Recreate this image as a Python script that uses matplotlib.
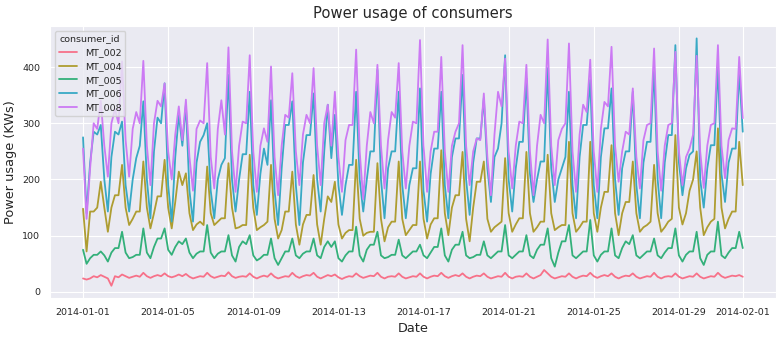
import pandas as pd
import seaborn as sns
import matplotlib.dates as mdates
from matplotlib import pyplot as plt

# readings every 4 hours: 00, 04, 08, 12, 16, 20 for each day of January 2014,
# plus the closing reading at 2014-02-01 00:00
timestamps = pd.date_range("2014-01-01 00:00", "2014-02-01 00:00", freq="4h")

consumer_ids = ["MT_002", "MT_004", "MT_005", "MT_006", "MT_008"]

mt_002 = [
    24, 22, 24, 28, 26, 30,
    27, 24, 11, 28, 26, 31,
    28, 25, 27, 29, 27, 34,
    28, 25, 28, 30, 28, 33,
    28, 26, 28, 31, 28, 32,
    27, 24, 26, 28, 27, 34,
    28, 25, 27, 29, 28, 35,
    28, 25, 27, 28, 27, 33,
    27, 24, 27, 29, 27, 33,
    27, 24, 26, 28, 27, 34,
    28, 25, 28, 30, 29, 34,
    27, 24, 27, 30, 28, 31,
    26, 23, 26, 28, 27, 33,
    28, 25, 27, 29, 28, 34,
    27, 24, 27, 28, 27, 33,
    27, 24, 26, 28, 27, 33,
    27, 24, 27, 29, 28, 34,
    28, 25, 28, 30, 28, 33,
    27, 24, 27, 29, 28, 33,
    27, 24, 26, 28, 27, 34,
    27, 24, 27, 28, 27, 33,
    27, 24, 27, 30, 39, 33,
    27, 24, 26, 28, 27, 33,
    27, 24, 27, 29, 28, 34,
    28, 25, 28, 30, 28, 33,
    27, 24, 27, 29, 28, 33,
    27, 24, 26, 28, 27, 34,
    27, 24, 27, 28, 27, 33,
    27, 24, 26, 28, 27, 33,
    27, 24, 26, 28, 27, 34,
    28, 25, 27, 29, 28, 30,
    27,
]

mt_004 = [
    148, 72, 143, 143, 150, 196,
    150, 107, 150, 172, 172, 226,
    150, 119, 130, 143, 143, 232,
    150, 113, 140, 170, 170, 235,
    150, 113, 160, 214, 190, 211,
    140, 110, 120, 125, 119, 223,
    140, 119, 125, 131, 131, 229,
    150, 113, 115, 119, 119, 244,
    150, 110, 115, 119, 125, 226,
    130, 95, 110, 143, 143, 214,
    120, 84, 120, 137, 137, 208,
    120, 84, 130, 170, 160, 196,
    120, 95, 105, 110, 110, 235,
    130, 100, 105, 107, 107, 229,
    130, 90, 115, 125, 125, 232,
    130, 101, 110, 119, 119, 232,
    130, 95, 120, 131, 131, 252,
    140, 101, 150, 172, 172, 249,
    130, 90, 150, 196, 196, 232,
    130, 107, 115, 120, 125, 238,
    140, 107, 120, 131, 131, 249,
    140, 107, 115, 125, 125, 244,
    140, 110, 115, 119, 119, 267,
    140, 107, 115, 125, 125, 267,
    140, 107, 150, 178, 178, 261,
    140, 101, 140, 160, 160, 232,
    140, 107, 115, 119, 125, 226,
    140, 107, 115, 125, 130, 279,
    150, 120, 140, 180, 200, 250,
    150, 101, 115, 125, 130, 291,
    150, 113, 130, 143, 143, 267,
    190,
]

mt_005 = [
    75, 50, 60, 66, 66, 72,
    65, 54, 70, 78, 78, 107,
    70, 60, 62, 66, 66, 113,
    70, 60, 80, 95, 95, 113,
    75, 66, 80, 90, 85, 95,
    70, 60, 68, 72, 72, 119,
    70, 60, 68, 72, 72, 101,
    65, 54, 80, 90, 85, 101,
    65, 56, 60, 66, 66, 95,
    60, 48, 60, 72, 72, 95,
    65, 60, 68, 72, 72, 95,
    65, 60, 80, 90, 80, 90,
    60, 54, 65, 72, 72, 116,
    65, 54, 75, 84, 84, 107,
    65, 60, 62, 66, 66, 93,
    65, 60, 66, 72, 72, 84,
    65, 60, 70, 80, 80, 113,
    65, 54, 75, 84, 84, 107,
    65, 60, 62, 66, 66, 90,
    65, 60, 66, 72, 72, 119,
    65, 60, 66, 72, 72, 101,
    65, 60, 75, 84, 84, 113,
    60, 45, 70, 90, 90, 119,
    65, 60, 66, 72, 72, 128,
    65, 54, 66, 72, 72, 113,
    65, 60, 78, 90, 85, 101,
    65, 60, 66, 72, 72, 95,
    65, 60, 70, 78, 78, 113,
    65, 54, 66, 72, 72, 107,
    60, 48, 66, 72, 72, 125,
    65, 60, 70, 78, 78, 107,
    78,
]

mt_006 = [
    275, 140, 230, 285, 280, 297,
    200, 143, 240, 285, 280, 303,
    190, 143, 200, 238, 260, 339,
    200, 131, 250, 310, 300, 371,
    190, 125, 240, 315, 260, 333,
    180, 125, 230, 267, 279, 300,
    180, 131, 200, 226, 238, 386,
    200, 143, 200, 245, 245, 356,
    190, 137, 210, 255, 226, 341,
    180, 119, 220, 297, 297, 339,
    190, 119, 230, 279, 279, 353,
    200, 143, 250, 333, 238, 315,
    190, 137, 190, 226, 226, 356,
    200, 143, 200, 250, 250, 395,
    200, 131, 220, 250, 250, 356,
    190, 131, 190, 220, 220, 362,
    180, 125, 210, 255, 255, 356,
    190, 131, 240, 273, 273, 386,
    200, 137, 230, 273, 273, 345,
    220, 160, 240, 255, 300, 421,
    200, 143, 220, 267, 267, 380,
    210, 160, 200, 232, 232, 398,
    220, 160, 200, 220, 240, 356,
    190, 131, 240, 297, 297, 377,
    190, 131, 240, 291, 291, 362,
    200, 137, 220, 250, 250, 356,
    190, 131, 230, 267, 267, 398,
    200, 131, 230, 279, 279, 439,
    230, 172, 220, 244, 250, 451,
    200, 150, 220, 261, 261, 404,
    210, 160, 230, 255, 255, 392,
    285,
]

mt_008 = [
    255, 130, 220, 300, 290, 340,
    260, 205, 300, 325, 300, 410,
    270, 205, 290, 320, 300, 411,
    260, 190, 300, 340, 330, 371,
    250, 200, 280, 330, 270, 342,
    240, 180, 290, 305, 300, 407,
    240, 184, 290, 341, 280, 435,
    250, 178, 260, 303, 300, 421,
    250, 178, 260, 291, 267, 401,
    240, 172, 260, 315, 310, 389,
    250, 190, 280, 315, 300, 398,
    260, 190, 300, 333, 260, 356,
    240, 178, 270, 297, 297, 431,
    250, 165, 260, 320, 300, 404,
    260, 184, 270, 320, 310, 407,
    250, 184, 260, 303, 300, 448,
    260, 178, 250, 285, 285, 418,
    250, 178, 260, 285, 300, 439,
    260, 190, 250, 273, 270, 353,
    240, 172, 280, 356, 330, 415,
    250, 184, 260, 303, 300, 404,
    250, 172, 260, 315, 300, 449,
    260, 190, 270, 290, 300, 442,
    250, 178, 280, 333, 320, 413,
    250, 178, 290, 338, 330, 436,
    260, 196, 250, 285, 280, 362,
    240, 184, 270, 297, 300, 433,
    250, 180, 260, 297, 300, 427,
    250, 190, 240, 255, 280, 420,
    250, 185, 260, 297, 300, 439,
    260, 202, 270, 291, 290, 418,
    309,
]

usage = {"MT_002": mt_002, "MT_004": mt_004, "MT_005": mt_005,
         "MT_006": mt_006, "MT_008": mt_008}

frames = []
for cid in consumer_ids:
    frames.append(pd.DataFrame({"date": timestamps,
                                "consumer_id": cid,
                                "usage": usage[cid]}))
df = pd.concat(frames, ignore_index=True)

sns.set_style("darkgrid")
plt.rcParams["font.family"] = ["DejaVu Sans"]

fig, ax = plt.subplots(figsize=(7.82, 3.38), dpi=100)
fig.subplots_adjust(left=0.064, right=0.992, top=0.923, bottom=0.118)

sns.lineplot(data=df, x="date", y="usage", hue="consumer_id",
             palette="husl", linewidth=1.3, ax=ax)

ax.set_title("Power usage of consumers", fontsize=10.6)
ax.set_xlabel("Date", fontsize=9.3)
ax.set_ylabel("Power usage (KWs)", fontsize=9.3)
ax.xaxis.set_major_locator(mdates.DayLocator(bymonthday=range(1, 32, 4)))
ax.xaxis.set_major_formatter(mdates.DateFormatter("%Y-%m-%d"))
ax.tick_params(labelsize=6.8)

leg = ax.legend(title="consumer_id", loc="upper left", fontsize=6.8,
                title_fontsize=6.8)

fig.savefig("out.png", dpi=100)
